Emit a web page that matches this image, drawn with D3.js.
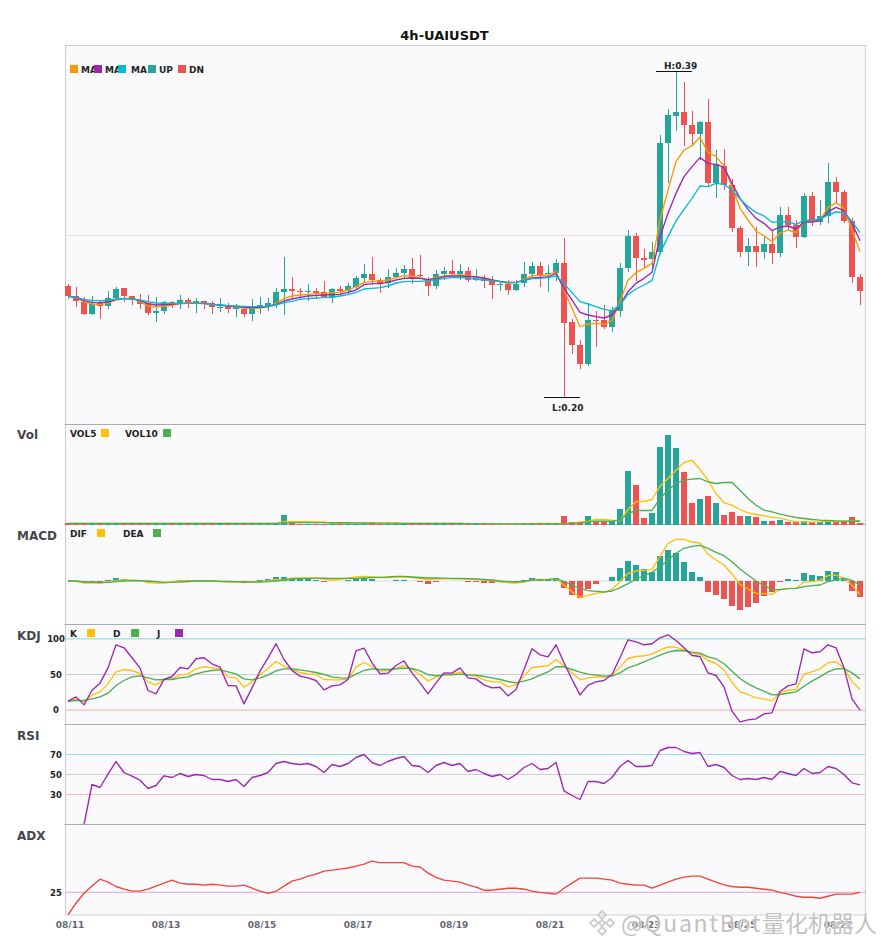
<!DOCTYPE html>
<html>
<head>
<meta charset="utf-8">
<script src="https://cdn.jsdelivr.net/npm/d3@7"></script>
<style>
	html, body { margin: 0; padding: 0; background: #fff; }
	svg { display: block; }
	text { font-family: "DejaVu Sans", sans-serif; }
</style>
</head>
<body>
<div id="chart"></div>
<script>
const title = '4h-UAIUSDT';
const xTickIndex = [0, 12, 24, 36, 48, 60, 72, 84, 96];
const xTickLabels = ['08/11', '08/13', '08/15', '08/17', '08/19', '08/21', '08/23', '08/25', '08/27'];

const opens = [
	0.2644, 0.2584, 0.2548, 0.2476, 0.2542, 0.2524, 0.2572, 0.2632, 0.2584, 0.2560,
	0.2542, 0.2482, 0.2494, 0.2548, 0.2536, 0.2560, 0.2536, 0.2554, 0.2542, 0.2512,
	0.2530, 0.2506, 0.2506, 0.2476, 0.2512, 0.2524, 0.2536, 0.2608, 0.2626, 0.2614,
	0.2608, 0.2614, 0.2608, 0.2572, 0.2626, 0.2614, 0.2638, 0.2692, 0.2716, 0.2680,
	0.2662, 0.2698, 0.2722, 0.2746, 0.2710, 0.2680, 0.2644, 0.2716, 0.2734, 0.2716,
	0.2734, 0.2680, 0.2692, 0.2674, 0.2650, 0.2656, 0.2620, 0.2662, 0.2716, 0.2764,
	0.2716, 0.2722, 0.2782, 0.2428, 0.2290, 0.2176, 0.2440, 0.2440, 0.2398, 0.2494,
	0.2752, 0.2944, 0.2812, 0.2806, 0.2848, 0.3502, 0.3664, 0.3688, 0.3610, 0.3556,
	0.3628, 0.3262, 0.3364, 0.3250, 0.2992, 0.2848, 0.2884, 0.2848, 0.2896, 0.2842,
	0.3070, 0.3010, 0.2938, 0.3184, 0.3028, 0.3064, 0.3268, 0.3208, 0.3034, 0.2698
];
const closes = [
	0.2584, 0.2554, 0.2476, 0.2536, 0.2524, 0.2572, 0.2626, 0.2584, 0.2560, 0.2536,
	0.2482, 0.2494, 0.2548, 0.2536, 0.2560, 0.2542, 0.2554, 0.2542, 0.2518, 0.2518,
	0.2506, 0.2518, 0.2476, 0.2506, 0.2530, 0.2542, 0.2608, 0.2626, 0.2614, 0.2608,
	0.2614, 0.2602, 0.2578, 0.2626, 0.2614, 0.2644, 0.2692, 0.2716, 0.2680, 0.2662,
	0.2698, 0.2722, 0.2746, 0.2692, 0.2704, 0.2644, 0.2716, 0.2734, 0.2716, 0.2734,
	0.2680, 0.2698, 0.2674, 0.2650, 0.2656, 0.2620, 0.2656, 0.2716, 0.2764, 0.2710,
	0.2722, 0.2782, 0.2422, 0.2290, 0.2176, 0.2440, 0.2434, 0.2398, 0.2500, 0.2752,
	0.2944, 0.2812, 0.2800, 0.2848, 0.3502, 0.3670, 0.3688, 0.3610, 0.3556, 0.3628,
	0.3262, 0.3376, 0.3250, 0.2992, 0.2848, 0.2884, 0.2848, 0.2896, 0.2842, 0.3070,
	0.3010, 0.2938, 0.3184, 0.3040, 0.3064, 0.3268, 0.3208, 0.3034, 0.2698, 0.2614
];
const highs = [
	0.2656, 0.2638, 0.2578, 0.2584, 0.2560, 0.2614, 0.2638, 0.2632, 0.2584, 0.2596,
	0.2590, 0.2578, 0.2554, 0.2554, 0.2590, 0.2572, 0.2572, 0.2554, 0.2554, 0.2572,
	0.2542, 0.2536, 0.2524, 0.2566, 0.2578, 0.2572, 0.2632, 0.2818, 0.2698, 0.2632,
	0.2656, 0.2632, 0.2674, 0.2632, 0.2644, 0.2662, 0.2704, 0.2776, 0.2818, 0.2692,
	0.2746, 0.2752, 0.2770, 0.2812, 0.2830, 0.2698, 0.2740, 0.2758, 0.2800, 0.2776,
	0.2758, 0.2746, 0.2710, 0.2704, 0.2674, 0.2680, 0.2680, 0.2788, 0.2788, 0.2788,
	0.2770, 0.2806, 0.2932, 0.2446, 0.2320, 0.2542, 0.2494, 0.2530, 0.2518, 0.2782,
	0.2980, 0.2962, 0.2866, 0.2908, 0.3550, 0.3706, 0.3928, 0.3868, 0.3694, 0.3634,
	0.3766, 0.3460, 0.3466, 0.3286, 0.3004, 0.2932, 0.2998, 0.2938, 0.2980, 0.3118,
	0.3118, 0.3040, 0.3202, 0.3208, 0.3160, 0.3382, 0.3298, 0.3220, 0.3052, 0.2716
];
const lows = [
	0.2566, 0.2518, 0.2470, 0.2470, 0.2446, 0.2506, 0.2566, 0.2548, 0.2530, 0.2506,
	0.2470, 0.2428, 0.2476, 0.2512, 0.2506, 0.2512, 0.2482, 0.2506, 0.2476, 0.2488,
	0.2482, 0.2458, 0.2458, 0.2434, 0.2476, 0.2494, 0.2512, 0.2470, 0.2572, 0.2566,
	0.2554, 0.2566, 0.2572, 0.2542, 0.2590, 0.2596, 0.2626, 0.2668, 0.2650, 0.2602,
	0.2632, 0.2692, 0.2692, 0.2656, 0.2698, 0.2584, 0.2626, 0.2680, 0.2704, 0.2680,
	0.2668, 0.2674, 0.2632, 0.2566, 0.2614, 0.2590, 0.2614, 0.2638, 0.2698, 0.2638,
	0.2608, 0.2674, 0.1972, 0.2236, 0.2146, 0.2164, 0.2278, 0.2386, 0.2368, 0.2458,
	0.2728, 0.2674, 0.2752, 0.2740, 0.2830, 0.3262, 0.3574, 0.3484, 0.3490, 0.3400,
	0.3244, 0.3172, 0.3220, 0.2968, 0.2818, 0.2764, 0.2758, 0.2806, 0.2776, 0.2818,
	0.2980, 0.2872, 0.2932, 0.3004, 0.3010, 0.3022, 0.3148, 0.3022, 0.2662, 0.2530
];
const ma5 = [
	0.2582, 0.2576, 0.2550, 0.2536, 0.2532, 0.2540, 0.2560, 0.2570, 0.2570, 0.2550,
	0.2524, 0.2518, 0.2524, 0.2528, 0.2540, 0.2544, 0.2542, 0.2540, 0.2534, 0.2528,
	0.2522, 0.2518, 0.2512, 0.2510, 0.2512, 0.2520, 0.2540, 0.2570, 0.2584, 0.2590,
	0.2594, 0.2598, 0.2600, 0.2604, 0.2606, 0.2620, 0.2640, 0.2666, 0.2672, 0.2674,
	0.2680, 0.2694, 0.2706, 0.2704, 0.2694, 0.2680, 0.2694, 0.2704, 0.2708, 0.2710,
	0.2708, 0.2696, 0.2690, 0.2680, 0.2670, 0.2660, 0.2664, 0.2684, 0.2706, 0.2708,
	0.2710, 0.2730, 0.2620, 0.2510, 0.2400, 0.2416, 0.2420, 0.2414, 0.2436, 0.2550,
	0.2680, 0.2724, 0.2750, 0.2780, 0.3040, 0.3220, 0.3390, 0.3460, 0.3486, 0.3536,
	0.3446, 0.3420, 0.3364, 0.3240, 0.3110, 0.3040, 0.2974, 0.2946, 0.2910, 0.2960,
	0.2980, 0.2964, 0.3030, 0.3034, 0.3040, 0.3116, 0.3144, 0.3110, 0.2980, 0.2850
];
const ma10 = [
	0.2582, 0.2576, 0.2556, 0.2546, 0.2544, 0.2548, 0.2564, 0.2568, 0.2568, 0.2556,
	0.2538, 0.2530, 0.2532, 0.2534, 0.2538, 0.2540, 0.2540, 0.2540, 0.2534, 0.2530,
	0.2524, 0.2520, 0.2516, 0.2514, 0.2516, 0.2520, 0.2534, 0.2554, 0.2566, 0.2576,
	0.2584, 0.2588, 0.2590, 0.2592, 0.2594, 0.2606, 0.2620, 0.2652, 0.2658, 0.2658,
	0.2666, 0.2680, 0.2690, 0.2692, 0.2690, 0.2682, 0.2688, 0.2700, 0.2704, 0.2704,
	0.2702, 0.2700, 0.2692, 0.2680, 0.2672, 0.2666, 0.2666, 0.2678, 0.2692, 0.2696,
	0.2698, 0.2720, 0.2630, 0.2560, 0.2486, 0.2470, 0.2460, 0.2452, 0.2470, 0.2530,
	0.2610, 0.2660, 0.2690, 0.2726, 0.2940, 0.3080, 0.3200, 0.3300, 0.3360, 0.3414,
	0.3380, 0.3374, 0.3356, 0.3260, 0.3170, 0.3104, 0.3050, 0.3020, 0.2976, 0.2998,
	0.3004, 0.2986, 0.3028, 0.3028, 0.3036, 0.3090, 0.3116, 0.3096, 0.3020, 0.2916
];
const ma20 = [
	0.2582, 0.2576, 0.2564, 0.2558, 0.2556, 0.2558, 0.2566, 0.2568, 0.2566, 0.2560,
	0.2550, 0.2542, 0.2540, 0.2540, 0.2540, 0.2540, 0.2540, 0.2538, 0.2534, 0.2530,
	0.2526, 0.2524, 0.2522, 0.2520, 0.2520, 0.2522, 0.2530, 0.2544, 0.2552, 0.2564,
	0.2568, 0.2572, 0.2574, 0.2578, 0.2584, 0.2592, 0.2606, 0.2626, 0.2630, 0.2634,
	0.2644, 0.2662, 0.2670, 0.2672, 0.2672, 0.2676, 0.2680, 0.2690, 0.2694, 0.2696,
	0.2692, 0.2686, 0.2680, 0.2676, 0.2670, 0.2664, 0.2666, 0.2676, 0.2688, 0.2690,
	0.2694, 0.2704, 0.2660, 0.2604, 0.2550, 0.2536, 0.2520, 0.2504, 0.2496, 0.2530,
	0.2594, 0.2626, 0.2650, 0.2676, 0.2840, 0.2940, 0.3034, 0.3104, 0.3170, 0.3244,
	0.3240, 0.3260, 0.3254, 0.3220, 0.3166, 0.3120, 0.3086, 0.3064, 0.3026, 0.3030,
	0.3028, 0.3014, 0.3036, 0.3040, 0.3044, 0.3070, 0.3088, 0.3086, 0.3030, 0.2964
];

const volumes = [
	1.5, 1, 1, 2, 1, 1, 1, 1, 1, 1,
	1, 1, 1, 1, 1, 1, 1, 1, 1, 1,
	1, 1, 0.8, 0.8, 1, 1, 1, 9.5, 1.5, 1,
	1, 1, 1, 1, 1, 1, 1, 1.5, 2.5, 1,
	1, 1, 1, 1, 1, 1, 1, 1, 1, 0.7,
	0.7, 0.7, 0.7, 0.6, 0.5, 0.5, 0.5, 0.7, 1, 0.8,
	1, 1.5, 8.3, 2.3, 2.3, 8.3, 2.7, 3, 3.7, 15.3,
	54, 40, 6.3, 11.3, 78, 90, 77, 53, 22, 26,
	29, 22, 10, 13, 9, 9, 8, 4, 4, 5,
	2.3, 3, 4, 3, 3, 4, 3, 3, 8, 2
];
const vol5 = [
	1.2, 1.2, 1.2, 1.2, 1.2, 1.2, 1.2, 1.2, 1.2, 1.2,
	1.2, 1.2, 1.2, 1.2, 1.2, 1.2, 1.2, 1.2, 1.2, 1.1,
	1.1, 1, 1, 1, 1, 1, 1.2, 2.8, 2.8, 2.8,
	2.8, 2.6, 2.5, 1.2, 1.1, 1.1, 1.1, 1.3, 1.6, 1.6,
	1.6, 1.5, 1.2, 1.1, 1.1, 1.1, 1.1, 1.1, 1.1, 1,
	0.9, 0.8, 0.7, 0.6, 0.5, 0.5, 0.5, 0.8, 1, 1,
	1, 1, 0.7, 1.3, 2.7, 3, 5, 5, 4.3, 3.7,
	15, 23, 23, 25, 38.3, 46, 54.3, 62, 64.3, 55,
	44.3, 31, 21.7, 19.3, 15, 11.7, 10, 8.7, 7.3, 6.3,
	4.3, 2.7, 2.7, 2.3, 2.7, 3.3, 3, 3.3, 3.3, 4
];
const vol10 = [
	1.1, 1.1, 1.1, 1.1, 1.1, 1.1, 1.1, 1.1, 1.1, 1.1,
	1.1, 1.1, 1.1, 1.1, 1.1, 1.1, 1.1, 1.1, 1.1, 1.1,
	1, 1, 1, 1, 1, 1, 1.1, 1.6, 1.8, 1.9,
	1.9, 1.9, 1.8, 1.8, 1.8, 1.8, 1.7, 1.5, 1.4, 1.4,
	1.4, 1.3, 1.2, 1.2, 1.2, 1.2, 1.1, 1.1, 1.1, 1,
	0.9, 0.8, 0.8, 0.7, 0.6, 0.6, 0.6, 0.6, 0.7, 0.7,
	0.7, 0.7, 0.7, 1.3, 1.7, 2.7, 3.3, 3.3, 3.3, 4.3,
	11, 14, 14, 14, 26, 34.3, 41, 44.3, 45.3, 46,
	42.7, 41, 42, 42, 34.3, 26, 19.3, 14.3, 12.7, 10.3,
	8.7, 7, 6, 5, 4.3, 4, 3.7, 3.3, 3.3, 3.3
];

const macdBars = [
	0, 0, -1.3, -1, -1, 0.8, 3, 2, 1, 0,
	-1, -1, 0, 0, 1, 1, 1, 1, 0, 0,
	0, 0, -1, 0, 1, 2, 4, 4, 3, 3,
	2, 1, -0.7, 0, 0, 1, 2.7, 3.3, 2, 0,
	0, 1, 1, 0, -1, -3, -1, 0, 0, 0,
	-1, -1, -2, -1.7, -1, -2.3, -1, 1, 3, 1,
	1, 3, -7, -14, -17, -8, -3, 0, 4, 13,
	20, 16, 12, 9, 25, 31, 28, 19, 9, 4,
	-11, -14, -18, -25, -29, -26, -22, -15, -11, -1,
	2, 1, 8, 6, 5, 10, 9, 2, -10, -16
];
const dif = [
	0, 0, -2, -2, -2, -1, 0, 1, 1, 0.3,
	-1.5, -2, -2, -1, 0, 0, 0, 0, 0, -0.5,
	-1, -1.3, -1.7, -1, -0.5, 0, 1.5, 1.3, 3, 3,
	3, 3, 2, 1, 1.5, 3, 4, 4.5, 4.3, 3.5,
	3.5, 4, 4, 3.5, 2.5, 1.5, 2, 2.3, 2.3, 2.2,
	2, 1.5, 1, 0.5, -1, -1.7, -2, -1, 1, 1.5,
	1.7, 2.3, -4, -10.7, -16.3, -14.3, -12.3, -11.3, -8.3, -0.7,
	7.7, 10, 10.7, 11.3, 24.3, 37.7, 41.7, 41.7, 39, 38,
	26.7, 21, 16, 7, -3.3, -8, -12.3, -12.7, -13.3, -8.7,
	-7.3, -7.3, -1, -0.7, 0.7, 5.3, 6, 2.7, -4, -14
];
const dea = [
	0, 0, -1, -1, -1.5, -1.3, -0.7, 0, 0.3, 0.3,
	0, -0.7, -1.3, -1.3, -1, -0.5, 0, 0, 0, -0.3,
	-0.5, -0.7, -1, -1, -1, -0.7, 0, 1, 2, 2.3,
	2.7, 2.8, 2.8, 2.7, 2.6, 2.6, 2.7, 3, 3.3, 3.6,
	4, 4.7, 4.6, 4, 3.5, 3, 3, 2.8, 2.7, 2.5,
	2.3, 2, 1.5, 1, 0, -0.7, -1, -0.3, 1, 1.2,
	1.3, 2.3, -0.7, -4, -7.3, -9.7, -10.3, -11, -10, -6.7,
	-2.7, 2, 5.3, 8.7, 14.3, 21, 27.7, 32.7, 34.7, 35.7,
	32.7, 28.7, 25.3, 19.3, 12, 6, 0, -4.7, -8.3, -8.7,
	-7.7, -7.3, -5.7, -4.7, -4, -0.7, 1.3, 2.7, 0.7, -4.3
];

const kdjK = [
	12.6, 15.4, 11.7, 21, 25.7, 36.9, 53.7, 57, 55.6, 51.4,
	39.7, 35.5, 43, 43.9, 49.5, 50.9, 57.9, 60.8, 59.3, 57.9,
	46.7, 45.3, 32.2, 39.7, 50, 58.4, 68.2, 61.7, 57, 52.8,
	50.9, 50, 43, 42.5, 42.5, 43.5, 60.3, 66.8, 61.2, 54.7,
	55.1, 58.4, 62.6, 57, 50, 41.1, 46.3, 50, 50, 53.3,
	49.1, 47.7, 42.5, 39.7, 39.7, 32.7, 35.5, 47.7, 59.8, 61.2,
	62.2, 71, 61.7, 52.3, 42.5, 45.3, 46.7, 46.3, 49.1, 60.3,
	72.4, 75.2, 76.2, 78.5, 84.1, 88.8, 87.9, 84.6, 79.4, 78.5,
	69.6, 65.4, 56.1, 38.8, 25.7, 22, 17.3, 15.9, 13.1, 24.3,
	28, 29, 50.9, 53.7, 57.9, 66.4, 67.8, 59.3, 39.7, 29.4
];
const kdjD = [
	12.6, 13.6, 13.6, 15.9, 18.7, 23.8, 34.6, 41.6, 46.7, 48.1,
	45.3, 42.5, 43, 43, 45.3, 46.7, 50.9, 53.7, 55.6, 56.5,
	53.7, 50.9, 43.9, 42.5, 45.3, 49.1, 55.1, 57.9, 57.9, 56.5,
	54.7, 52.8, 50, 46.7, 45.3, 44.9, 50.5, 55.6, 57.9, 57,
	57, 57.9, 58.9, 58.4, 55.1, 50, 48.1, 49.5, 49.5, 50.5,
	49.5, 49.1, 47.2, 45.3, 43, 40.2, 38.3, 40.7, 43.9, 49.1,
	53.7, 60.8, 60.8, 57, 53.3, 50.5, 49.1, 47.7, 47.7, 52.3,
	59.3, 63.1, 67.8, 72.4, 77.1, 81.3, 83.6, 83.2, 81.3, 79.9,
	74.8, 72, 65, 54.7, 44.4, 36.9, 31.3, 26.6, 21.5, 22,
	23.8, 25.7, 33.6, 40.7, 46.7, 53.7, 57.9, 58.4, 52.3, 43.9
];
const kdjJ = [
	12.6, 18.7, 7.5, 28, 37.9, 59.3, 91.6, 87.4, 73.4, 59.3,
	27.6, 22.9, 43, 47.2, 59.8, 57.9, 72, 73.4, 65, 60.3,
	34.6, 34.1, 8.9, 31.3, 54.7, 73.4, 93, 71, 55.6, 47.7,
	45.3, 41.6, 28.5, 34.1, 35.5, 43, 83.2, 86.9, 66.4, 50.9,
	51.9, 62.6, 69.2, 52.3, 38.3, 22.9, 38.3, 52.3, 51.9, 59.3,
	45.3, 43.9, 35.5, 31.3, 32.2, 20.1, 29, 57, 86, 77.6,
	74.8, 91.6, 66.4, 43, 21.5, 35, 39.7, 41.6, 50, 73.4,
	98.6, 95.8, 91.6, 93, 101.4, 105.6, 97.7, 87.4, 76.6, 75.2,
	52.3, 48.6, 32.7, -1.4, -16.4, -13.6, -12.1, -5.1, -3.7, 26.2,
	34.1, 36.9, 86, 80.4, 81.8, 91.6, 87.4, 59.3, 15.9, 0
];

const rsi = [
	null, null, 0, 40, 37, 50.3, 63, 52, 48.3, 44.3,
	36, 39, 48.7, 47, 51, 48, 50, 49, 45, 45,
	43, 45, 38, 47, 49, 52, 61, 63, 61, 60,
	61, 58, 52, 60, 58, 61, 67, 70, 62, 59,
	63, 66, 68, 59, 58, 52, 59, 62, 59, 61,
	53, 55, 51, 48, 50, 45, 50, 57, 61, 55,
	56, 62, 33.7, 29, 25, 43, 43, 41, 47, 58,
	64, 58, 58, 59, 74, 77, 77, 73, 71, 72,
	58, 60, 57, 49, 45, 46, 45, 47, 45, 53,
	51, 49, 56, 51, 52, 58, 56, 50, 41.7, 39.7
];
const adx = [
	0, 13, 24, 32, 39.6, 36.3, 31.5, 28.5, 26.3, 26.3,
	28.5, 31.9, 35.2, 38.5, 35.2, 34, 34, 33, 34, 33,
	31.9, 31.9, 33, 29.6, 26.3, 24, 26.3, 31.9, 37.4, 39.6,
	43, 45.2, 48.5, 49.6, 50.7, 51.9, 54, 56.3, 59.6, 57.8,
	57.8, 57.8, 57.8, 54, 53, 46.3, 41.5, 38.5, 37.4, 36.3,
	33.3, 30.7, 27.4, 27.4, 28.5, 29.6, 29.6, 28.5, 26.3, 25,
	24, 23, 29.6, 35.2, 40.7, 40.7, 40.7, 39.6, 38.5, 35.2,
	34, 33, 33, 29.6, 33, 36.3, 39.6, 41.9, 43, 43,
	39.6, 36.3, 33.3, 31.5, 30.7, 30.7, 29.6, 28.5, 27.4, 25,
	23, 20.7, 19.6, 19.6, 18.5, 20.7, 23, 23, 23, 25
];

const colors = {
	up: '#26a69a', down: '#ef5350',
	orange: '#ff9800', purple: '#9c27b0', cyan: '#00bcd4',
	amber: '#ffc107', green: '#4caf50',
	plot: '#fafafd', edge: '#cdcdd6', divider: '#aaaab0',
	labelDark: '#45454f', tick: '#666670'
};

const width = 885, height = 950;
const plotLeft = 65.5, plotRight = 865.5;

const svg = d3.select('#chart').append('svg')
	.attr('width', width)
	.attr('height', height);

// x is shared by every pane
const indexList = d3.range(opens.length);
const x = d3.scaleBand().domain(indexList).range([64, 864]);
const center = function(i) { return x(i) + x.bandwidth() / 2; };

// panes, from top to bottom
const panes = {
	main: { top: 45.5, bottom: 424.5, domain: [0.1813, 0.4087] },
	vol: { top: 424.5, bottom: 524.5, domain: [0, 100] },
	macd: { top: 524.5, bottom: 624.5, domain: [-43.5, 56.5] },
	kdj: { top: 624.5, bottom: 724.5, domain: [-20, 120] },
	rsi: { top: 724.5, bottom: 824.5, domain: [0, 100] },
	adx: { top: 824.5, bottom: 915, domain: [0, 100] }
};
Object.keys(panes).forEach(function(name) {
	var pane = panes[name];
	pane.y = d3.scaleLinear().domain(pane.domain).range([pane.bottom, pane.top]);
});

function drawPlotFrames() {
	svg.append('rect')
		.attr('x', plotLeft).attr('y', 45.5)
		.attr('width', plotRight - plotLeft).attr('height', 915 - 45.5)
		.attr('fill', colors.plot)
		.attr('stroke', colors.edge);

	[424.5, 524.5, 624.5, 724.5, 824.5].forEach(function(py) {
		svg.append('line')
			.attr('x1', plotLeft - 1).attr('x2', plotRight)
			.attr('y1', py).attr('y2', py)
			.attr('stroke', colors.divider);
	});

	svg.append('defs').selectAll('clipPath')
		.data(Object.keys(panes))
		.enter().append('clipPath')
		.attr('id', function(d) { return 'clip-' + d; })
		.append('rect')
		.attr('x', plotLeft).attr('width', plotRight - plotLeft)
		.attr('y', function(d) { return panes[d].top; })
		.attr('height', function(d) { return panes[d].bottom - panes[d].top; });
}

function hLine(pane, value, color) {
	svg.append('line')
		.attr('x1', plotLeft).attr('x2', plotRight)
		.attr('y1', pane.y(value)).attr('y2', pane.y(value))
		.attr('stroke', color)
		.attr('stroke-width', 1.2);
}

function drawLine(paneName, values, color, lineWidth) {
	var pane = panes[paneName];
	var line = d3.line()
		.defined(function(d) { return d != null; })
		.x(function(d, i) { return center(i); })
		.y(function(d) { return pane.y(d); });

	svg.append('path')
		.datum(values)
		.attr('clip-path', 'url(#clip-' + paneName + ')')
		.attr('fill', 'none')
		.attr('stroke', color)
		.attr('stroke-width', lineWidth || 1.35)
		.attr('stroke-linejoin', 'round')
		.attr('d', line);
}

function drawCandles() {
	var y = panes.main.y;
	var g = svg.append('g').attr('shape-rendering', 'crispEdges');
	var candleColor = function(i) { return closes[i] >= opens[i] ? colors.up : colors.down; };

	g.selectAll('.wick').data(indexList).enter().append('rect')
		.attr('class', 'wick')
		.attr('x', function(i) { return center(i); })
		.attr('width', 1)
		.attr('y', function(i) { return y(highs[i]); })
		.attr('height', function(i) { return y(lows[i]) - y(highs[i]); })
		.attr('fill', candleColor);

	g.selectAll('.body').data(indexList).enter().append('rect')
		.attr('class', 'body')
		.attr('x', function(i) { return center(i) - 3; })
		.attr('width', 6)
		.attr('y', function(i) { return y(Math.max(opens[i], closes[i])); })
		.attr('height', function(i) { return Math.max(1, Math.abs(y(opens[i]) - y(closes[i]))); })
		.attr('fill', candleColor);
}

function drawExtremes() {
	var y = panes.main.y;
	var highest = d3.max(highs), lowest = d3.min(lows);
	var marks = [
		{ i: highs.indexOf(highest), price: highest, text: 'H:' + highest.toFixed(2), dy: -3.5 },
		{ i: lows.indexOf(lowest), price: lowest, text: 'L:' + lowest.toFixed(2), dy: 12.5 }
	];

	marks.forEach(function(m) {
		svg.append('line')
			.attr('x1', center(m.i) - 20).attr('x2', center(m.i) + 16)
			.attr('y1', Math.round(y(m.price)) - 0.5).attr('y2', Math.round(y(m.price)) - 0.5)
			.attr('stroke', '#111');
		svg.append('text')
			.attr('x', center(m.i) - 12)
			.attr('y', y(m.price) + m.dy)
			.attr('font-size', 9)
			.attr('font-weight', 'bold')
			.attr('fill', '#222')
			.text(m.text);
	});
}

function drawBars(paneName, values, colorOf) {
	var y = panes[paneName].y;
	svg.append('g')
		.attr('shape-rendering', 'crispEdges')
		.selectAll('rect').data(values).enter().append('rect')
		.attr('x', function(d, i) { return center(i) - 3; })
		.attr('width', 6)
		.attr('y', function(d) { return y(Math.max(d, 0)); })
		.attr('height', function(d) { return Math.abs(y(d) - y(0)); })
		.attr('fill', colorOf);
}

function drawLegend(items, swatchTop) {
	items.forEach(function(item) {
		svg.append('text')
			.attr('x', item.textX).attr('y', swatchTop + 7.5)
			.attr('font-size', 9)
			.attr('font-weight', 'bold')
			.attr('fill', '#222')
			.text(item.text);
	});
	items.forEach(function(item) {
		svg.append('rect')
			.attr('x', item.swatchX).attr('y', swatchTop)
			.attr('width', 8).attr('height', 8)
			.attr('fill', item.color);
	});
}

function drawPaneLabels() {
	var labels = [['Vol', 434], ['MACD', 535], ['KDJ', 635], ['RSI', 735], ['ADX', 835]];
	labels.forEach(function(l) {
		svg.append('text')
			.attr('x', 17).attr('y', l[1] + 4.5)
			.attr('font-size', 12)
			.attr('font-weight', 'bold')
			.attr('fill', colors.labelDark)
			.text(l[0]);
	});
}

function drawYLabels(pane, values) {
	var axis = d3.axisLeft(pane.y).tickValues(values).tickSize(0).tickFormat(d3.format('d'));
	var g = svg.append('g')
		.attr('transform', 'translate(' + 56 + ',0)')
		.call(axis);
	g.select('.domain').remove();
	g.selectAll('text')
		.attr('x', 0)
		.attr('text-anchor', 'middle')
		.attr('font-size', 8.5)
		.attr('font-weight', 'bold')
		.attr('fill', '#222')
		.style('font-family', '"DejaVu Sans", sans-serif');
}

function drawXAxis() {
	var axis = d3.axisBottom(x)
		.tickValues(xTickIndex)
		.tickSize(0)
		.tickFormat(function(d) { return xTickLabels[xTickIndex.indexOf(d)]; });
	var g = svg.append('g')
		.attr('transform', 'translate(2,915)')
		.call(axis);
	g.select('.domain').remove();
	g.selectAll('text')
		.attr('y', 10)
		.attr('dy', '0.3em')
		.attr('font-size', 9)
		.attr('font-weight', 'bold')
		.attr('fill', colors.tick)
		.style('font-family', '"DejaVu Sans", sans-serif');
}

function drawWatermark() {
	var logo = svg.append('g')
		.attr('transform', 'translate(602,923)')
		.attr('fill', 'none')
		.attr('stroke', '#c4c4c4')
		.attr('stroke-opacity', 0.85)
		.attr('stroke-width', 1.8);
	[[0, -8, 4], [-8, 0, 4], [8, 0, 4], [0, 8, 4], [0, 0, 3]].forEach(function(d) {
		logo.append('path')
			.attr('d', 'M' + d[0] + ',' + (d[1] - d[2]) + 'L' + (d[0] + d[2]) + ',' + d[1] +
				'L' + d[0] + ',' + (d[1] + d[2]) + 'L' + (d[0] - d[2]) + ',' + d[1] + 'Z');
	});

	var text = svg.append('text')
		.attr('x', 621).attr('y', 932)
		.attr('font-size', 23)
		.attr('fill', '#c2c2c2')
		.attr('stroke', '#fff')
		.attr('stroke-opacity', 0.5)
		.attr('stroke-width', 2)
		.attr('paint-order', 'stroke')
		.style('font-family', '"Noto Sans CJK SC", "Noto Sans", sans-serif');
	text.append('tspan').attr('letter-spacing', 1.7).text('@QuantBot');
	text.append('tspan').text('量化机器人');
}

// title
svg.append('text')
	.attr('x', 444.5).attr('y', 39.5)
	.attr('text-anchor', 'middle')
	.attr('font-size', 13)
	.attr('font-weight', 'bold')
	.attr('fill', '#111')
	.text(title);

drawPlotFrames();

// main pane
svg.append('line')
	.attr('x1', plotLeft).attr('x2', plotRight)
	.attr('y1', 235.5).attr('y2', 235.5)
	.attr('stroke', '#dedee2');
drawCandles();
drawLine('main', ma5, colors.orange);
drawLine('main', ma10, colors.purple);
drawLine('main', ma20, colors.cyan);
drawExtremes();
drawLegend([
	{ text: 'MA', textX: 81, swatchX: 70, color: colors.orange },
	{ text: 'MA', textX: 105, swatchX: 94, color: colors.purple },
	{ text: 'MA', textX: 131, swatchX: 118, color: colors.cyan },
	{ text: 'UP', textX: 159, swatchX: 148, color: colors.up },
	{ text: 'DN', textX: 189, swatchX: 178, color: colors.down }
], 65);

// volume pane
drawBars('vol', volumes, function(d, i) { return closes[i] >= opens[i] ? colors.up : colors.down; });
drawLine('vol', vol5, colors.amber);
drawLine('vol', vol10, colors.green);
drawLegend([
	{ text: 'VOL5', textX: 70, swatchX: 101, color: colors.amber },
	{ text: 'VOL10', textX: 125, swatchX: 163, color: colors.green }
], 429);

// macd pane
hLine(panes.macd, 0, '#dcdce0');
drawBars('macd', macdBars, function(d) { return d >= 0 ? colors.up : colors.down; });
drawLine('macd', dif, colors.amber);
drawLine('macd', dea, colors.green);
drawLegend([
	{ text: 'DIF', textX: 70, swatchX: 97, color: colors.amber },
	{ text: 'DEA', textX: 123, swatchX: 153, color: colors.green }
], 529);

// kdj pane
hLine(panes.kdj, 100, '#9adfd8');
hLine(panes.kdj, 50, '#cfcfd3');
hLine(panes.kdj, 0, '#f7b8b6');
drawLine('kdj', kdjK, colors.amber);
drawLine('kdj', kdjD, colors.green);
drawLine('kdj', kdjJ, colors.purple);
drawYLabels(panes.kdj, [0, 50, 100]);
drawLegend([
	{ text: 'K', textX: 70, swatchX: 87, color: colors.amber },
	{ text: 'D', textX: 113, swatchX: 131, color: colors.green },
	{ text: 'J', textX: 157, swatchX: 175, color: colors.purple }
], 629);

// rsi pane
hLine(panes.rsi, 70, '#9adfd8');
hLine(panes.rsi, 50, '#cfcfd3');
hLine(panes.rsi, 30, '#f7b8b6');
drawLine('rsi', rsi, colors.purple);
drawYLabels(panes.rsi, [30, 50, 70]);

// adx pane
hLine(panes.adx, 25, '#dcb8e0');
drawLine('adx', adx, '#f44336');
drawYLabels(panes.adx, [25]);

drawPaneLabels();
drawXAxis();
drawWatermark();
</script>
</body>
</html>
